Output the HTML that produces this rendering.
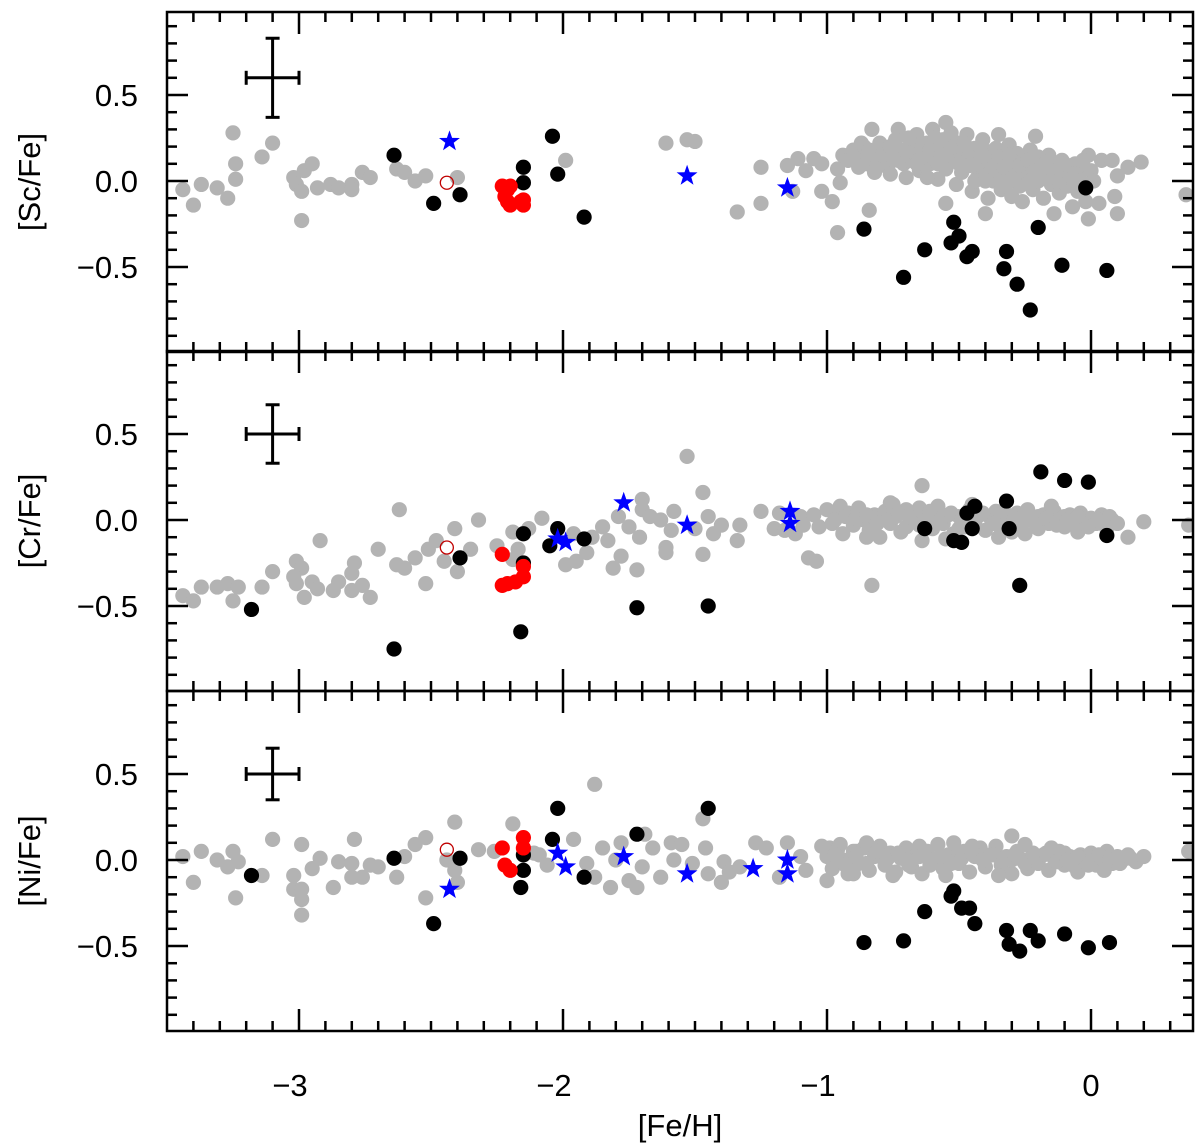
<!DOCTYPE html>
<html><head><meta charset="utf-8"><style>
html,body{margin:0;padding:0;background:#fff;}
svg{display:block;font-family:"Liberation Sans",sans-serif;}
</style></head><body>
<svg id="chart" width="1200" height="1143" viewBox="0 0 1200 1143" xmlns="http://www.w3.org/2000/svg"></svg>
<script>
// ---------- DATA ----------
const xTickLabels = ["−3","−2","−1","0"];
const xTickValues = [-3,-2,-1,0];
const yTickLabels = ["0.5","0.0","−0.5"];
const yTickValues = [0.5,0,-0.5];
const panelTitles = ["[Sc/Fe]","[Cr/Fe]","[Ni/Fe]"];
const errX = [-3.10,-3.10,-3.10];
const errY = [0.60,0.50,0.50];
const errDX = [0.10,0.10,0.10];
const errDY = [0.23,0.17,0.15];

// Panel 1 [Sc/Fe]
const scGrayX = [-3.44,-3.40,-3.37,-3.31,-3.27,-3.25,-3.24,-3.24,-3.14,-3.10,-3.02,-3.01,-2.99,-2.99,-2.98,-2.95,-2.93,-2.88,-2.85,-2.80,-2.80,-2.76,-2.73,-2.63,-2.60,-2.56,-2.52,-2.40,
-1.99,-1.61,-1.53,-1.50,-1.34,-1.25,-1.25,-1.15,-1.11,-1.08,-1.05,-1.02,-0.96,-0.95,-1.02,-0.98,-0.96,-1.13,-0.94,
-0.84,-0.83,-0.73,-0.55,-0.21,-0.01,0.04,0.08,0.14,0.19,0.10,0.09,0.10,0.03,-0.01,-0.02,-0.07,-0.14,-0.40,-0.55,0.36,
-0.92,-0.90,-0.88,-0.86,-0.85,-0.83,-0.82,-0.80,-0.80,-0.78,-0.77,-0.75,-0.74,-0.72,-0.71,-0.70,-0.68,-0.67,-0.66,-0.65,-0.63,-0.62,-0.61,-0.60,-0.59,-0.58,-0.57,-0.56,-0.55,-0.54,-0.53,-0.52,-0.51,-0.50,-0.49,-0.48,-0.47,-0.46,-0.45,-0.44,-0.43,-0.42,-0.41,-0.40,-0.39,-0.38,-0.37,-0.36,-0.35,-0.34,-0.33,-0.32,-0.31,-0.30,-0.29,-0.28,-0.27,-0.26,-0.25,-0.24,-0.23,-0.22,-0.21,-0.20,-0.19,-0.18,-0.17,-0.16,-0.15,-0.14,-0.13,-0.12,-0.11,-0.10,-0.09,-0.08,-0.07,-0.06,-0.05,-0.04,-0.03,-0.02,0.00,0.01,
-0.88,-0.76,-0.69,-0.64,-0.58,-0.53,-0.47,-0.41,-0.36,-0.30,-0.25,-0.20,-0.15,-0.10,-0.62,-0.44,-0.34,-0.27,-0.18,-0.12];
const scGrayY = [-0.05,-0.14,-0.02,-0.04,-0.10,0.28,0.10,0.01,0.14,0.22,0.02,-0.02,-0.06,-0.23,0.06,0.10,-0.04,-0.02,-0.04,-0.02,-0.05,0.05,0.02,0.07,0.05,0.00,0.03,0.02,
0.12,0.22,0.24,0.23,-0.18,0.08,-0.13,0.09,0.13,0.06,0.13,0.10,0.07,-0.01,-0.06,-0.12,-0.30,-0.06,0.15,
-0.17,0.30,0.30,0.34,0.26,0.15,0.12,0.12,0.08,0.11,0.03,-0.09,-0.19,-0.13,-0.22,-0.12,-0.15,-0.19,-0.19,-0.13,-0.08,
0.12,0.18,0.15,0.20,0.10,0.16,0.05,0.22,0.12,0.18,0.08,0.14,0.24,0.18,0.10,0.02,0.20,0.13,0.27,0.06,0.16,0.22,0.10,0.30,0.18,0.01,0.13,0.24,0.07,0.19,0.28,0.12,-0.02,0.22,0.05,0.16,0.27,0.09,-0.06,0.19,0.02,0.13,0.24,0.06,-0.10,0.17,0.00,0.10,0.27,-0.05,0.14,0.05,0.21,-0.09,0.09,0.16,0.01,-0.12,0.11,0.04,0.18,-0.05,0.08,0.00,0.12,-0.10,0.05,0.15,-0.02,0.09,0.02,-0.07,0.12,0.04,-0.03,0.08,0.00,0.10,-0.06,0.05,0.12,-0.02,0.06,0.00,
0.08,0.04,0.12,0.20,0.10,0.15,0.12,0.08,0.19,0.12,0.06,0.14,0.08,0.10,0.02,0.00,0.02,-0.03,0.02,0.00];
const scCloudX = [-0.90,-0.87,-0.84,-0.81,-0.79,-0.76,-0.73,-0.70,-0.69,-0.66,-0.64,-0.61,-0.59,-0.57,-0.55,-0.52,-0.50,-0.48,-0.46,-0.43,-0.42,-0.39,-0.37,-0.35,-0.33,-0.31,-0.29,-0.27,-0.24,-0.22,-0.19,-0.17,-0.14,-0.11,-0.08,-0.06,-0.04,-0.40,-0.32,-0.23];
const scCloudY = [0.14,0.22,0.18,0.09,0.15,0.20,0.12,0.17,0.25,0.10,0.14,0.18,0.25,0.20,0.15,0.20,0.10,0.22,0.17,0.10,0.20,0.12,0.08,0.14,0.08,0.15,0.03,0.09,0.12,0.05,0.07,0.11,0.04,0.05,0.03,0.04,0.00,0.00,-0.02,0.00];
const scBlackX = [-2.64,-2.49,-2.39,-2.15,-2.15,-2.04,-2.02,-1.92,-0.86,-0.71,-0.63,-0.52,-0.50,-0.53,-0.47,-0.45,-0.32,-0.33,-0.28,-0.23,-0.20,-0.11,-0.02,0.06];
const scBlackY = [0.15,-0.13,-0.08,0.08,-0.01,0.26,0.04,-0.21,-0.28,-0.56,-0.40,-0.24,-0.32,-0.36,-0.44,-0.41,-0.41,-0.51,-0.60,-0.75,-0.27,-0.49,-0.04,-0.52];
const scRedX = [-2.23,-2.21,-2.20,-2.22,-2.21,-2.20,-2.15,-2.15,-2.16];
const scRedY = [-0.03,-0.05,-0.03,-0.09,-0.12,-0.14,-0.11,-0.14,-0.12];
const scOpenX = [-2.44];
const scOpenY = [-0.01];
const scStarX = [-2.43,-1.53,-1.15];
const scStarY = [0.23,0.03,-0.04];

// Panel 2 [Cr/Fe]
const crGrayX = [-3.44,-3.40,-3.37,-3.31,-3.27,-3.23,-3.25,-3.14,-3.10,-3.01,-2.99,-3.02,-3.01,-2.98,-2.95,-2.93,-2.92,-2.87,-2.85,-2.80,-2.76,-2.73,-2.80,-2.79,-2.70,-2.62,-2.63,-2.60,-2.56,-2.52,-2.51,-2.48,-2.45,-2.41,-2.40,-2.35,-2.32,-2.25,-2.19,-2.17,-2.19,-2.13,-2.08,-1.96,-1.99,-1.95,-1.91,-1.89,-1.85,-1.83,-1.81,-1.78,-1.79,-1.72,-1.70,-1.70,-1.75,-1.71,-1.67,-1.63,-1.61,-1.58,-1.59,
-1.53,-1.47,-1.61,-1.47,-1.40,-1.34,-1.33,-1.25,-1.07,-1.04,-0.83,-0.64,0.20,0.14,0.37,-0.76,-1.50,-1.45,-1.43,-1.20,-1.18,-1.16,-1.10,-1.12,-1.09,
-1.05,-1.03,-1.00,-0.98,-0.96,-0.94,-0.92,-0.90,-0.88,-0.86,-0.84,-0.82,-0.80,-0.78,-0.76,-0.74,-0.72,-0.70,-0.68,-0.66,-0.64,-0.62,-0.60,-0.58,-0.56,-0.54,-0.52,-0.50,-0.48,-0.46,-0.44,-0.42,-0.40,-0.38,-0.36,-0.34,-0.32,-0.30,-0.28,-0.26,-0.24,-0.22,-0.20,-0.18,-0.16,-0.14,-0.12,-0.10,-0.08,-0.06,-0.04,-0.02,0.00,0.02,0.04,0.06,0.08,
-0.95,-0.85,-0.75,-0.65,-0.55,-0.45,-0.35,-0.25,-0.15,-0.05,-0.70,-0.60,-0.30,-0.20,-0.10,-0.58,-0.50];
const crGrayY = [-0.44,-0.47,-0.39,-0.39,-0.37,-0.39,-0.47,-0.39,-0.30,-0.24,-0.28,-0.33,-0.37,-0.45,-0.36,-0.40,-0.12,-0.41,-0.36,-0.41,-0.38,-0.45,-0.31,-0.25,-0.17,0.06,-0.26,-0.28,-0.22,-0.37,-0.17,-0.12,-0.24,-0.05,-0.30,-0.17,0.00,-0.15,-0.07,-0.17,-0.23,-0.05,0.01,-0.08,-0.26,-0.24,-0.19,-0.10,-0.04,-0.12,-0.28,-0.21,0.02,-0.29,0.12,0.06,-0.04,-0.10,0.02,0.00,-0.16,0.05,-0.06,
0.37,0.16,-0.19,-0.20,-0.03,-0.12,-0.03,0.05,-0.22,-0.24,-0.38,0.20,-0.01,-0.10,-0.03,0.10,-0.05,0.02,-0.08,-0.05,0.04,-0.06,0.02,-0.08,-0.03,
0.03,-0.04,0.06,-0.02,0.02,-0.08,0.04,-0.03,0.07,0.00,-0.06,0.03,-0.10,0.05,-0.02,0.02,-0.07,0.06,-0.01,0.03,-0.12,0.01,-0.05,0.05,-0.02,0.03,-0.08,0.02,-0.04,0.06,-0.01,0.03,-0.06,0.01,0.05,-0.03,0.02,-0.07,0.04,-0.02,0.06,0.00,-0.05,0.03,-0.02,0.05,0.00,-0.04,0.03,-0.02,0.04,-0.03,0.01,-0.02,0.03,-0.05,0.00,
0.08,-0.10,0.09,0.07,-0.11,0.09,-0.10,-0.08,0.08,-0.07,-0.04,0.03,0.00,0.02,0.02,0.08,-0.05];
const crCloudX = [-0.97,-0.93,-0.89,-0.85,-0.81,-0.77,-0.73,-0.69,-0.65,-0.61,-0.57,-0.53,-0.49,-0.45,-0.41,-0.37,-0.33,-0.29,-0.25,-0.21,-0.17,-0.13,-0.09,-0.05,-0.01,0.03,0.07,0.10];
const crCloudY = [0.00,0.02,0.01,0.03,-0.02,0.00,0.04,0.02,-0.03,0.05,0.00,0.04,0.00,0.02,0.04,-0.02,0.05,0.01,0.03,-0.02,0.01,-0.03,0.00,0.02,-0.04,0.00,0.02,-0.02];
const crBlackX = [-3.18,-2.64,-2.39,-2.15,-2.15,-2.16,-2.02,-2.05,-1.92,-1.72,-1.45,-0.63,-0.52,-0.49,-0.45,-0.47,-0.44,-0.32,-0.31,-0.27,-0.19,-0.10,-0.01,0.06];
const crBlackY = [-0.52,-0.75,-0.22,-0.08,-0.25,-0.65,-0.05,-0.15,-0.11,-0.51,-0.50,-0.05,-0.12,-0.13,-0.05,0.04,0.08,0.11,-0.05,-0.38,0.28,0.23,0.22,-0.09];
const crRedX = [-2.23,-2.23,-2.21,-2.18,-2.15,-2.15];
const crRedY = [-0.20,-0.38,-0.37,-0.36,-0.27,-0.33];
const crOpenX = [-2.44];
const crOpenY = [-0.16];
const crStarX = [-2.02,-1.99,-1.77,-1.53,-1.14,-1.14];
const crStarY = [-0.11,-0.13,0.10,-0.03,0.05,-0.02];

// Panel 3 [Ni/Fe]
const niGrayX = [-3.44,-3.40,-3.37,-3.31,-3.27,-3.25,-3.23,-3.24,-3.14,-3.10,-2.99,-3.02,-3.02,-2.99,-2.99,-2.99,-2.95,-2.92,-2.87,-2.85,-2.80,-2.79,-2.80,-2.76,-2.73,-2.70,-2.63,-2.60,-2.56,-2.52,-2.52,-2.41,-2.44,-2.41,-2.40,-2.32,-2.26,-2.19,-2.11,
-1.88,-1.47,-2.09,-2.06,-1.96,-1.91,-1.88,-1.85,-1.82,-1.80,-1.78,-1.75,-1.72,-1.70,-1.69,-1.66,-1.63,-1.59,-1.58,-1.55,-1.51,-1.46,-1.45,-1.39,-1.40,-1.37,-1.33,-1.27,-1.23,-1.18,-1.15,-1.10,-1.08,-0.99,-1.00,-0.94,-0.89,-0.90,0.37,-0.30,
-1.02,-1.00,-0.98,-0.96,-0.94,-0.92,-0.90,-0.88,-0.86,-0.84,-0.82,-0.80,-0.78,-0.76,-0.74,-0.72,-0.70,-0.68,-0.66,-0.64,-0.62,-0.60,-0.58,-0.56,-0.54,-0.52,-0.50,-0.48,-0.46,-0.44,-0.42,-0.40,-0.38,-0.36,-0.34,-0.32,-0.30,-0.28,-0.26,-0.24,-0.22,-0.20,-0.18,-0.16,-0.14,-0.12,-0.10,-0.08,-0.06,-0.04,-0.02,0.00,0.02,0.04,0.06,0.08,0.10,0.12,0.14,0.17,0.20,
-0.95,-0.85,-0.75,-0.65,-0.55,-0.45,-0.35,-0.25,-0.15,-0.05,0.05,-0.70,-0.50,-0.30,-0.10];
const niGrayY = [0.02,-0.13,0.05,0.00,-0.04,0.05,-0.01,-0.22,-0.09,0.12,0.09,-0.09,-0.17,-0.17,-0.23,-0.32,-0.05,0.01,-0.16,-0.01,-0.02,0.12,-0.10,-0.10,-0.03,-0.04,-0.10,0.02,0.09,0.13,-0.22,0.22,0.00,-0.06,-0.13,0.06,0.05,0.21,0.04,
0.44,0.24,0.03,-0.03,0.12,-0.02,-0.10,0.07,-0.16,0.00,0.10,-0.12,-0.16,-0.04,0.15,0.07,-0.10,0.10,0.00,0.09,-0.02,0.07,-0.08,-0.01,-0.13,-0.07,-0.04,0.10,0.07,-0.10,0.10,0.02,-0.06,0.07,-0.12,-0.02,0.05,-0.08,0.05,0.14,
0.08,0.02,-0.05,0.06,0.00,-0.08,0.05,-0.02,0.07,-0.06,0.02,0.08,-0.03,0.04,-0.07,0.01,0.07,-0.04,0.03,-0.08,0.05,0.00,0.09,-0.05,0.03,0.10,-0.02,0.05,-0.07,0.02,0.07,-0.04,0.03,0.08,-0.03,0.02,-0.08,0.05,0.00,-0.05,0.04,-0.02,0.03,-0.06,0.01,0.05,-0.03,0.02,-0.04,0.03,-0.01,0.04,-0.03,0.01,0.05,-0.02,0.02,0.00,0.03,-0.01,0.02,
0.09,0.10,-0.09,0.08,-0.09,0.08,-0.09,0.09,0.07,-0.07,-0.06,0.00,0.04,0.00,0.04];
const niCloudX = [-0.97,-0.93,-0.89,-0.85,-0.81,-0.77,-0.73,-0.69,-0.65,-0.61,-0.57,-0.53,-0.49,-0.45,-0.41,-0.37,-0.33,-0.29,-0.25,-0.21,-0.17,-0.13,-0.09,-0.05,-0.01,0.03,0.07,0.11,0.15];
const niCloudY = [0.03,-0.03,0.02,-0.02,0.05,0.01,0.04,-0.03,0.02,-0.03,0.02,-0.02,0.01,0.04,0.00,0.03,0.00,0.03,-0.02,0.01,0.04,-0.01,0.00,0.02,-0.03,0.03,0.00,-0.02,0.01];
const niBlackX = [-3.18,-2.64,-2.49,-2.39,-2.15,-2.16,-2.02,-2.04,-2.15,-1.92,-1.72,-1.45,-0.86,-0.71,-0.63,-0.52,-0.53,-0.49,-0.46,-0.44,-0.32,-0.31,-0.27,-0.23,-0.20,-0.10,-0.01,0.07];
const niBlackY = [-0.09,0.01,-0.37,0.01,-0.06,-0.16,0.30,0.12,0.03,-0.10,0.15,0.30,-0.48,-0.47,-0.30,-0.18,-0.21,-0.28,-0.28,-0.37,-0.41,-0.49,-0.53,-0.41,-0.47,-0.43,-0.51,-0.48];
const niRedX = [-2.23,-2.22,-2.20,-2.15,-2.15];
const niRedY = [0.07,-0.03,-0.06,0.13,0.07];
const niOpenX = [-2.44];
const niOpenY = [0.06];
const niStarX = [-2.43,-2.02,-1.99,-1.77,-1.53,-1.28,-1.15,-1.15];
const niStarY = [-0.17,0.04,-0.04,0.02,-0.08,-0.05,0.00,-0.08];

// ---------- LAYOUT ----------
const NS = "http://www.w3.org/2000/svg";
const svg = document.getElementById("chart");
const L = 167, R = 1193;
const panelTops = [12, 351, 691];
const PH = 340;
function xs(v){ return 1091 + 264*v; }
function ys(p, v){ return panelTops[p] + 169 - 172*v; }
function mk(tag, attrs, parent){
  const e = document.createElementNS(NS, tag);
  for (const k in attrs) e.setAttribute(k, attrs[k]);
  (parent||svg).appendChild(e);
  return e;
}
function starPath(cx, cy, Ro, Ri){
  let d = "";
  for (let i=0;i<10;i++){
    const r = i%2===0 ? Ro : Ri;
    const a = -Math.PI/2 + i*Math.PI/5;
    d += (i===0?"M":"L") + (cx + r*Math.cos(a)).toFixed(1) + " " + (cy + r*Math.sin(a)).toFixed(1);
  }
  return d + "Z";
}

const panels = [
  {gx:scGrayX.concat(scCloudX), gy:scGrayY.concat(scCloudY), bx:scBlackX, by:scBlackY, rx:scRedX, ry:scRedY, ox:scOpenX, oy:scOpenY, sx:scStarX, sy:scStarY, key:"sc"},
  {gx:crGrayX.concat(crCloudX), gy:crGrayY.concat(crCloudY), bx:crBlackX, by:crBlackY, rx:crRedX, ry:crRedY, ox:crOpenX, oy:crOpenY, sx:crStarX, sy:crStarY, key:"cr"},
  {gx:niGrayX.concat(niCloudX), gy:niGrayY.concat(niCloudY), bx:niBlackX, by:niBlackY, rx:niRedX, ry:niRedY, ox:niOpenX, oy:niOpenY, sx:niStarX, sy:niStarY, key:"ni"}
];

panels.forEach((P, p) => {
  const g = mk("g", {});
  
  
  const top = panelTops[p];
  const cp = mk("clipPath", {id:"clip"+p}, g);
  mk("rect", {x:L, y:top, width:R-L, height:PH}, cp);
  const pts = mk("g", {"clip-path":"url(#clip"+p+")"}, g);

  for (let i=0;i<P.gx.length;i++){
    const c = mk("circle", {cx:xs(P.gx[i]), cy:ys(p,P.gy[i]), r:7.6, fill:"#b3b3b3"}, pts);
    
    
  }
  for (let i=0;i<P.bx.length;i++){
    const c = mk("circle", {cx:xs(P.bx[i]), cy:ys(p,P.by[i]), r:7.6, fill:"#000"}, pts);
    
    
  }
  for (let i=0;i<P.rx.length;i++){
    const c = mk("circle", {cx:xs(P.rx[i]), cy:ys(p,P.ry[i]), r:7.6, fill:"#f00"}, pts);
    
    
  }
  for (let i=0;i<P.ox.length;i++){
    const c = mk("circle", {cx:xs(P.ox[i]), cy:ys(p,P.oy[i]), r:6.5, fill:"none", stroke:"#c00000", "stroke-width":1.3}, pts);
    
    
  }
  for (let i=0;i<P.sx.length;i++){
    const s = mk("path", {d:starPath(xs(P.sx[i]), ys(p,P.sy[i]), 11, 4.4), fill:"#0000ff"}, pts);
    
    
  }

  const ex = xs(errX[p]), ey = ys(p, errY[p]);
  const eb = mk("g", {stroke:"#000", "stroke-width":3, fill:"none"}, g);
  
  
  const hx = 264*errDX[p], hy = 172*errDY[p];
  mk("line", {x1:ex-hx, y1:ey, x2:ex+hx, y2:ey}, eb);
  mk("line", {x1:ex, y1:ey-hy, x2:ex, y2:ey+hy}, eb);
  mk("line", {x1:ex-hx, y1:ey-7, x2:ex-hx, y2:ey+7}, eb);
  mk("line", {x1:ex+hx, y1:ey-7, x2:ex+hx, y2:ey+7}, eb);
  mk("line", {x1:ex-7, y1:ey-hy, x2:ex+7, y2:ey-hy}, eb);
  mk("line", {x1:ex-7, y1:ey+hy, x2:ex+7, y2:ey+hy}, eb);

  const fr = mk("rect", {x:L, y:top, width:R-L, height:PH, fill:"none", stroke:"#000", "stroke-width":2.5}, g);
  
  

  const tk = mk("g", {stroke:"#000", "stroke-width":2.5}, g);
  for (let k=-9;k<=9;k++){
    const v = k/10, y = ys(p, v);
    const len = (k%5===0) ? 21 : 10;
    mk("line", {x1:L, y1:y, x2:L+len, y2:y}, tk);
    mk("line", {x1:R, y1:y, x2:R-len, y2:y}, tk);
  }
  for (let k=-34;k<=3;k++){
    const x = xs(k/10);
    const len = (k%10===0) ? 22 : 10;
    mk("line", {x1:x, y1:top, x2:x, y2:top+len}, tk);
    mk("line", {x1:x, y1:top+PH, x2:x, y2:top+PH-len}, tk);
  }
  yTickValues.forEach((v,i) => {
    const t = mk("text", {x:138, y:ys(p,v)+11, "text-anchor":"end", "font-size":31, fill:"#000"}, g);
    t.textContent = yTickLabels[i];
    
    
  });
  const cy = top + PH/2;
  const tt = mk("text", {x:0, y:0, transform:`translate(40 ${cy}) rotate(-90)`, "text-anchor":"middle", "font-size":31, fill:"#000"}, g);
  tt.textContent = panelTitles[p];
  
  
});

xTickValues.forEach((v,i) => {
  const t = mk("text", {x:xs(v) - (v<0?9:0), y:1096, "text-anchor":"middle", "font-size":31, fill:"#000"});
  t.textContent = xTickLabels[i];
  
  
});
const xt = mk("text", {x:680, y:1136, "text-anchor":"middle", "font-size":31, fill:"#000"});
xt.textContent = "[Fe/H]";


</script>
</body></html>
